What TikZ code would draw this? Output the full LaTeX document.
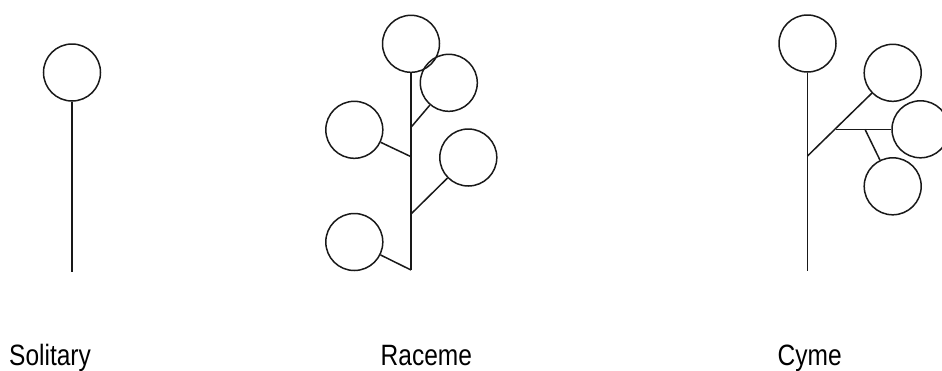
\documentclass[tikz,border=0pt]{standalone}
\usepackage{fontspec}
\setmainfont{Liberation Sans}
\begin{document}
\begin{tikzpicture}[x=1pt,y=-1pt,
  flower/.style={draw=black!90,line width=1.5pt,circle,minimum size=57pt,inner sep=0pt},
  stem/.style={draw=black!90,line width=1.5pt},
  lbl/.style={anchor=base west,inner sep=0pt,font=\fontsize{24.5}{28}\selectfont}]
\useasboundingbox (0,0) rectangle (942,370);
\begin{scope}
\clip (0,0) rectangle (942,370);
% Solitary
\node[flower] (s1) at (72,72.5) {};
\coordinate (sbase) at (72,271.5);
\draw[stem] (s1.south) -- (sbase);
% Raceme
\node[flower] (r1) at (411,43.8) {};
\node[flower] (r2) at (448.8,82.8) {};
\node[flower] (r3) at (354.3,129.8) {};
\node[flower] (r4) at (468.3,157.5) {};
\node[flower] (r5) at (354.3,242) {};
\coordinate (rb) at (411,270);
\coordinate (rj1) at (411,127.3);
\coordinate (rj2) at (411,156.7);
\coordinate (rj3) at (411,214);
\draw[stem] (r1.south) -- (rb);
\draw[stem] (rj1) -- (r2);
\draw[stem] (rj2) -- (r3);
\draw[stem] (rj3) -- (r4);
\draw[stem] (rb) -- (r5);
% Cyme
\node[flower] (c1) at (807.5,43.5) {};
\node[flower] (c2) at (892.7,72.8) {};
\node[flower] (c3) at (920.5,129.3) {};
\node[flower] (c4) at (892.7,186.3) {};
\coordinate (cb) at (807.5,270.7);
\coordinate (cj1) at (807.5,156);
\coordinate (cj2) at (836,129.3);
\coordinate (cj3) at (865,129.3);
\draw[stem] (c1.south) -- (cb);
\draw[stem] (cj1) -- (c2);
\draw[stem] (cj2) -- (c3);
\draw[stem] (cj3) -- (c4);
\end{scope}
% labels
\node[lbl] (ls) at (9,365) {\scalebox{1}[1.2]{Solitary}};
\node[lbl] (lr) at (380.5,365) {\scalebox{1}[1.2]{Raceme}};
\node[lbl] (lc) at (777.5,365) {\scalebox{1}[1.2]{Cyme}};
\end{tikzpicture}
\end{document}
